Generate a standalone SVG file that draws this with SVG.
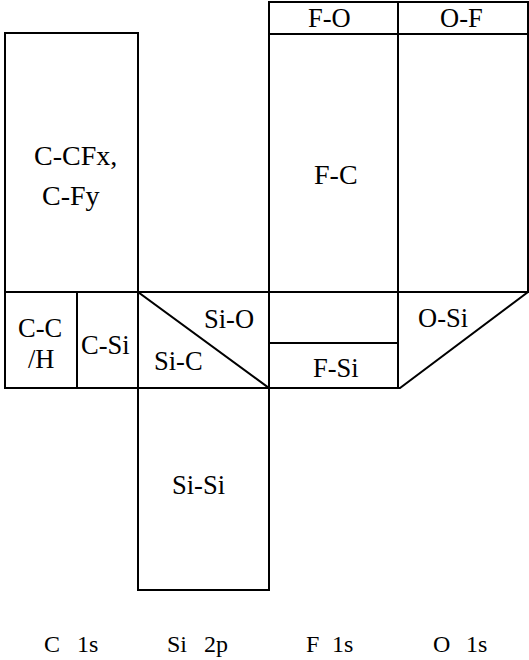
<svg xmlns="http://www.w3.org/2000/svg" width="529" height="660" viewBox="0 0 529 660">
<style>
.ln{stroke:#000;stroke-width:2;fill:none;stroke-linecap:square}
.box{stroke:#000;stroke-width:2;fill:#fff}
text{font-family:'Liberation Serif','DejaVu Serif','Times New Roman',serif;fill:#000}
.t{font-size:26.5px}
.tl{font-size:28px}
.ax{font-size:24px}
</style>
<rect width="529" height="660" fill="#fff"/>
<g id="c-cfx"><rect class="box" x="5" y="33" width="133" height="259"/><text class="tl" x="34" y="165">C-CFx,</text><text class="tl" x="42" y="205">C-Fy</text></g>
<g id="cc-h"><rect class="box" x="5" y="292" width="72" height="96"/><text class="t" x="18" y="337">C-C</text><text class="t" x="28" y="368">/H</text></g>
<g id="c-si"><rect class="box" x="77" y="292" width="61" height="96"/><text class="t" x="81" y="354">C-Si</text></g>
<g id="si-o-c"><rect class="box" x="138" y="292" width="131" height="96"/><text class="t" x="204" y="328">Si-O</text><text class="t" x="154" y="370">Si-C</text></g>
<g id="si-si"><rect class="box" x="138" y="388" width="131" height="202"/><text class="t" x="172" y="494">Si-Si</text></g>
<g id="f-o"><rect class="box" x="269" y="2" width="129" height="32"/><text class="t" x="308" y="27">F-O</text></g>
<g id="o-f"><rect class="box" x="398" y="2" width="130" height="32"/><text class="t" x="440" y="27">O-F</text></g>
<g id="f-c"><rect class="box" x="269" y="34" width="129" height="258"/><text class="tl" x="314" y="184">F-C</text></g>
<g id="o-col"><rect class="box" x="398" y="34" width="130" height="258"/></g>
<g id="f-mid"><rect class="box" x="269" y="292" width="129" height="51"/></g>
<g id="f-si"><rect class="box" x="269" y="343" width="129" height="45"/><text class="t" x="313" y="377">F-Si</text></g>
<g id="o-si"><path class="ln" d="M398,292 L528,292 L400,388 L398,388 Z"/><text class="t" x="418" y="327">O-Si</text></g>
<g id="connectors"><line class="ln" x1="138" y1="292" x2="269" y2="388"/></g>
<g id="axis-labels">
<text class="ax" y="652"><tspan x="44">C</tspan><tspan x="77">1s</tspan></text>
<text class="ax" y="652"><tspan x="167">Si</tspan><tspan x="204">2p</tspan></text>
<text class="ax" y="652"><tspan x="306">F</tspan><tspan x="332">1s</tspan></text>
<text class="ax" y="652"><tspan x="433">O</tspan><tspan x="466">1s</tspan></text>
</g>
</svg>
